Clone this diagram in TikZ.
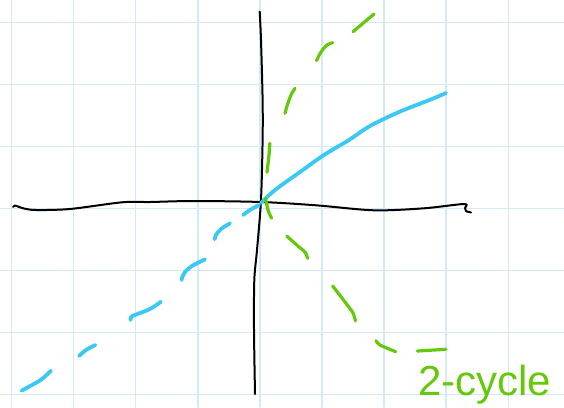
\documentclass[tikz,border=0pt]{standalone}
\usepackage{fontspec}
\setmainfont{Liberation Sans}
\definecolor{gridc}{RGB}{212,234,248}
\definecolor{curveblue}{RGB}{58,200,245}
\definecolor{cyclegreen}{RGB}{102,200,10}
\tikzset{
  gridline/.style={draw=gridc, line width=1.5pt},
  axisline/.style={draw=black, line width=2pt},
  bluestroke/.style={draw=curveblue, line width=3.8pt},
  greenstroke/.style={draw=cyclegreen, line width=3.2pt},
}
\begin{document}
\begin{tikzpicture}[x=1pt,y=-1pt,line cap=round,line join=round]
\useasboundingbox (0,0) rectangle (564,407);
\fill[white] (0,0) rectangle (564,407);
% grid
\foreach \k in {0,...,8} \draw[gridline] ({11.5+62.1*\k},0) -- ({11.5+62.1*\k},407);
\foreach \k in {0,...,6} \draw[gridline] (0,{22.7+62*\k}) -- (564,{22.7+62*\k});
% axes
\draw[axisline] plot[smooth] coordinates {(259.7,11.7)(261,40)(262.6,100)(262.6,140)(261,200)(257,250)(254.3,280)(254,330)(255,394)};
\draw[axisline] plot[smooth] coordinates {(13,207)(15,205.5)(18,206.5)(24,208.5)(36,210)(70,209)(122,202.3)(150,202)(194,201)(261,202)(316,205.3)(374,210.3)(424,208.3)(464,204)(465,208)(466,211)(471,212.5)};
% blue solid branch
\draw[bluestroke] plot[smooth] coordinates {(261,203)(275,190)(300,172)(324,155)(349,140)(370,126)(399,112)(432,99)(446,93)};
% blue dashed branch
\draw[bluestroke] plot[smooth] coordinates {(259,205)(250,210)(243,215)};
\draw[bluestroke] plot[smooth] coordinates {(230,223.3)(221,229)(216,235)(214.7,239.3)};
\draw[bluestroke] plot[smooth] coordinates {(205,259.3)(192,266)(185,272)(182,278)(181.7,280)};
\draw[bluestroke] plot[smooth] coordinates {(161,301.7)(150,309)(135,315)(131.3,316.7)(130.5,320)};
\draw[bluestroke] plot[smooth] coordinates {(95.3,345)(86,350)(79,356)};
\draw[bluestroke] plot[smooth] coordinates {(51,370.7)(42,379)(32,385)(21.6,390.7)};
% green 2-cycle
\draw[greenstroke] (374,14) -- (353,31.7);
\draw[greenstroke] plot[smooth] coordinates {(332.7,42.7)(327,45)(321,52)(316.5,60.7)};
\draw[greenstroke] plot[smooth] coordinates {(295,88.3)(291,95)(287,106)(285,113.3)};
\draw[greenstroke] plot[smooth] coordinates {(269.8,143.3)(269,155)(267,172.3)};
\draw[greenstroke] plot[smooth] coordinates {(265.5,198.3)(268,210)(271.6,218.3)};
\draw[greenstroke] plot[smooth] coordinates {(286.7,236)(299,247)(305,252)(307.6,258.3)};
\draw[greenstroke] plot[smooth] coordinates {(332.7,286)(345,302)(353,313)(355.4,321)};
\draw[greenstroke] plot[smooth] coordinates {(376,340.7)(380,345)(395.7,351.7)};
\draw[greenstroke] (417.3,351) -- (446,349.3);
\node[text=cyclegreen, font=\fontsize{42}{42}\selectfont, anchor=base west, inner sep=0pt] (cyclelabel) at (418,395) {2-cycle};
\end{tikzpicture}
\end{document}
